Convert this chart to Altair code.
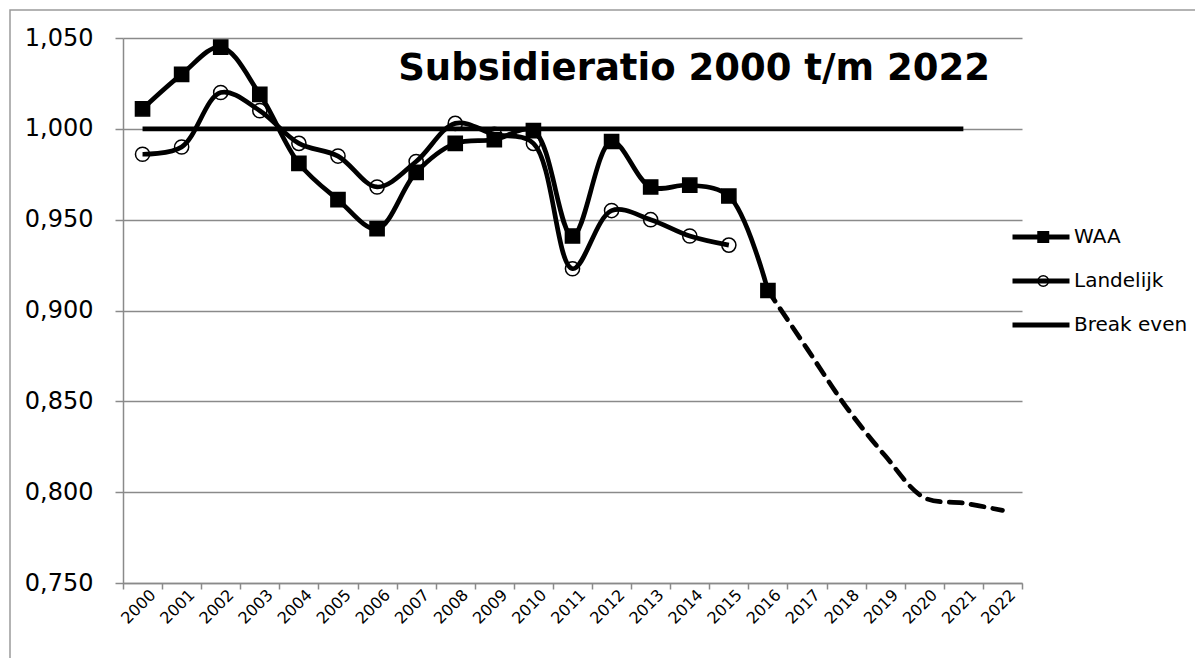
import altair as alt
import pandas as pd

# ---------------- data ----------------
years = [str(y) for y in range(2000, 2023)]

waa_years = years[:17]            # 2000 - 2016
waa_values = [1.011, 1.030, 1.045, 1.019, 0.981, 0.961, 0.945, 0.976, 0.992,
              0.994, 0.999, 0.941, 0.993, 0.968, 0.969, 0.963, 0.911]

land_years = years[:16]           # 2000 - 2015
land_values = [0.986, 0.990, 1.020, 1.010, 0.992, 0.985, 0.968, 0.982, 1.003,
               0.997, 0.992, 0.923, 0.955, 0.950, 0.941, 0.936]

proj_years = years[16:]           # 2016 - 2022 (prognose, gestippeld)
proj_values = [0.911, 0.879, 0.847, 0.820, 0.797, 0.794, 0.790]

even_years = years[:22]           # 2000 - 2021
even_values = [1.000] * 22

series_names = ["WAA", "Landelijk", "Break even"]
marker_series = ["WAA", "Landelijk"]
y_ticks = [0.750, 0.800, 0.850, 0.900, 0.950, 1.000, 1.050]
title_text = "Subsidieratio 2000 t/m 2022"

# ---------------- tables ----------------
line_df = pd.concat([
    pd.DataFrame({"year": waa_years, "value": waa_values, "series": "WAA"}),
    pd.DataFrame({"year": land_years, "value": land_values, "series": "Landelijk"}),
    pd.DataFrame({"year": even_years, "value": even_values, "series": "Break even"}),
], ignore_index=True)

pts_df = pd.concat([
    pd.DataFrame({"year": waa_years, "value": waa_values, "series": "WAA"}),
    pd.DataFrame({"year": land_years, "value": land_values, "series": "Landelijk"}),
], ignore_index=True)

proj_df = pd.DataFrame({"year": proj_years, "value": proj_values})

W, H = 899, 545
FONT = "DejaVu Sans"
GRID = "#8a8a8a"

x_enc = alt.X(
    "year:O",
    bandPosition=0.5,
    scale=alt.Scale(type="band", domain=years, paddingInner=0, paddingOuter=0),
    axis=alt.Axis(
        title=None, labelAngle=-45, labelAlign="right", labelBaseline="middle",
        tickBand="extent", tickSize=6, tickColor=GRID, tickWidth=1.5,
        domainColor=GRID, domainWidth=1.5, labelFont=FONT, labelFontSize=16,
        labelColor="black", labelPadding=3, labelOffset=10, grid=False,
        labelOverlap=False,
    ),
)
y_enc = alt.Y(
    "value:Q",
    scale=alt.Scale(domain=[0.75, 1.05], nice=False, zero=False),
    axis=alt.Axis(
        title=None, values=y_ticks,
        labelExpr="replace(format(datum.value, '.3f'), '.', ',')",
        grid=True, gridColor=GRID, gridWidth=1.5,
        domainColor=GRID, domainWidth=1.5, tickColor=GRID, tickWidth=1.5,
        tickSize=8, labelPadding=22, labelFont=FONT, labelFontSize=24,
        labelColor="black",
    ),
)

LX, LY = 887, 177

legend_lines = alt.Legend(
    title=None, orient="none", legendX=LX, legendY=LY, padding=0,
    symbolType="M-1,0H1", symbolSize=3249, symbolStrokeWidth=5,
    symbolStrokeColor="black", clipHeight=44, rowPadding=0,
    labelFont=FONT, labelFontSize=20, labelColor="black", labelOffset=2,
)
legend_marks = alt.Legend(
    title=None, orient="none", legendX=LX + 28.5 - 5.25, legendY=LY, padding=0,
    symbolSize=110, symbolStrokeWidth=1.5, symbolStrokeColor="black",
    clipHeight=44, rowPadding=0, labelExpr="''",
    labelFont=FONT, labelFontSize=20,
)

frame = alt.Chart(pd.DataFrame({"f": [0]})).mark_rect(
    fillOpacity=0, stroke="#9a9a9a", strokeWidth=1.5, clip=False
).encode(
    x=alt.value(-113), x2=alt.value(W + 200), y=alt.value(-28), y2=alt.value(H + 120)
)

title_mark = alt.Chart(pd.DataFrame({"t": [title_text]})).mark_text(
    font=FONT, fontSize=37, fontWeight="bold", color="black",
    align="right", baseline="alphabetic"
).encode(x=alt.value(W - 32), y=alt.value(42), text="t:N")

lines = alt.Chart(line_df).mark_line(
    interpolate="catmull-rom", strokeWidth=4.7
).encode(
    x=x_enc, y=y_enc,
    color=alt.Color("series:N",
                    scale=alt.Scale(domain=series_names, range=["black", "black", "black"]),
                    legend=legend_lines),
)

proj = alt.Chart(proj_df).mark_line(
    interpolate="catmull-rom", strokeWidth=4.7, strokeDash=[13, 9],
    strokeCap="round", color="black"
).encode(x=x_enc, y=y_enc)

points = alt.Chart(pts_df).mark_point(
    size=200, strokeWidth=1.5, opacity=1
).encode(
    x=x_enc, y=y_enc,
    shape=alt.Shape("series:N",
                    scale=alt.Scale(domain=marker_series, range=["square", "circle"]),
                    legend=legend_marks),
    fill=alt.Fill("series:N",
                  scale=alt.Scale(domain=marker_series, range=["black", "transparent"]),
                  legend=legend_marks),
    stroke=alt.Stroke("series:N",
                      scale=alt.Scale(domain=marker_series, range=["black", "black"]),
                      legend=legend_marks),
)

chart = alt.layer(frame, lines, proj, points, title_mark).properties(
    width=W, height=H,
    autosize=alt.AutoSizeParams(type="none"),
    padding={"left": 115, "top": 30, "right": 173, "bottom": 75},
    background="white",
).configure_view(stroke=None)

chart.save("out.html", embed_options={"renderer": "svg", "actions": False})
